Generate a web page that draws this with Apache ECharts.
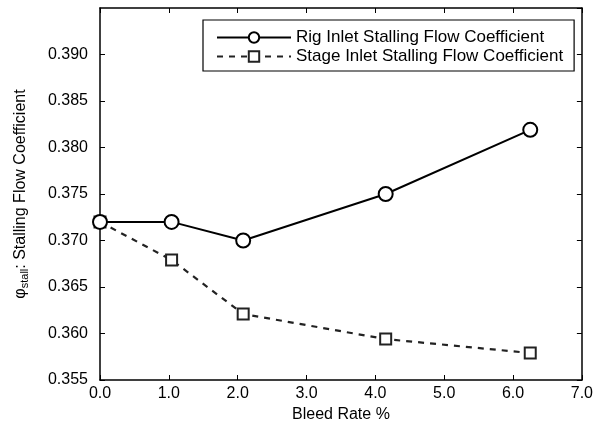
<!DOCTYPE html>
<html>
<head>
<meta charset="utf-8">
<script src="https://cdn.jsdelivr.net/npm/echarts@6/dist/echarts.min.js"></script>
<style>html,body{margin:0;padding:0;background:#fff}#c{width:596px;height:433px}</style>
</head>
<body>
<div id="c"></div>
<script>
const bleedRate = [0.0, 1.04, 2.08, 4.15, 6.25];
const rigInlet = [0.372, 0.3720, 0.3700, 0.3750, 0.3819];
const stageInlet = [0.372, 0.3679, 0.3621, 0.3594, 0.3579];
const seriesNames = ['Rig Inlet Stalling Flow Coefficient', 'Stage Inlet Stalling Flow Coefficient'];
const xRange = [0, 7, 1];
const yRange = [0.355, 0.395, 0.005];

const font = 'Liberation Sans, Arial, Helvetica, sans-serif';
const chart = echarts.init(document.getElementById('c'), null, {renderer: 'canvas'});
const axisLine = {show: true, onZero: false, lineStyle: {color: '#000', width: 1.5}};
const tick = {show: true, inside: true, length: 5, lineStyle: {color: '#000', width: 1}};
chart.setOption({
  animation: false,
  backgroundColor: '#fff',
  grid: {left: 100, right: 11, top: 8, bottom: 53, containLabel: false},
  legend: {
    orient: 'vertical', left: 203, top: 20,
    backgroundColor: '#fff', borderColor: '#000', borderWidth: 1.2,
    padding: [8, 11, 5, 13], itemGap: 0, itemWidth: 74, itemHeight: 13,
    textStyle: {fontFamily: font, fontSize: 17, color: '#000', lineHeight: 19},
    data: seriesNames
  },
  xAxis: [{
    type: 'value', min: xRange[0], max: xRange[1], interval: xRange[2],
    name: 'Bleed Rate %', nameLocation: 'middle', nameGap: 27,
    nameTextStyle: {fontFamily: font, fontSize: 16, color: '#000'},
    axisLine, axisTick: tick, splitLine: {show: false},
    axisLabel: {fontFamily: font, fontSize: 16, color: '#000', margin: 6, formatter: v => v.toFixed(1)}
  }, {
    type: 'value', position: 'top', min: xRange[0], max: xRange[1], interval: xRange[2],
    axisLine, axisTick: tick, axisLabel: {show: false}, splitLine: {show: false}
  }],
  yAxis: [{
    type: 'value', min: yRange[0], max: yRange[1], interval: yRange[2],
    name: '{p|φ}{s|stall}{p|: Stalling Flow Coefficient}', nameLocation: 'middle', nameGap: 70, nameRotate: 90,
    nameTextStyle: {fontFamily: font, fontSize: 16, color: '#000',
      rich: {p: {fontFamily: font, fontSize: 16, color: '#000'}, s: {fontFamily: font, fontSize: 11, color: '#000', verticalAlign: 'bottom', padding: [7, 0, 0, 0]}}},
    axisLine, axisTick: tick, splitLine: {show: false},
    axisLabel: {fontFamily: font, fontSize: 16, color: '#000', margin: 12, showMaxLabel: false, formatter: v => v.toFixed(3)}
  }, {
    type: 'value', position: 'right', min: yRange[0], max: yRange[1], interval: yRange[2],
    axisLine, axisTick: tick, axisLabel: {show: false}, splitLine: {show: false}
  }],
  series: [{
    name: seriesNames[0], type: 'line',
    data: bleedRate.map((x, i) => [x, rigInlet[i]]),
    symbol: 'emptyCircle', symbolSize: 14, showAllSymbol: true,
    lineStyle: {color: '#000', width: 2},
    itemStyle: {color: '#000', borderColor: '#000', borderWidth: 2}, z: 3
  }, {
    name: seriesNames[1], type: 'line',
    data: bleedRate.map((x, i) => [x, stageInlet[i]]),
    symbol: 'emptyRect', symbolSize: 11, showAllSymbol: true,
    lineStyle: {color: '#222', width: 2.2, type: [6, 6]},
    itemStyle: {color: '#222', borderColor: '#222', borderWidth: 2.2}, z: 2
  }]
});
</script>
</body>
</html>
